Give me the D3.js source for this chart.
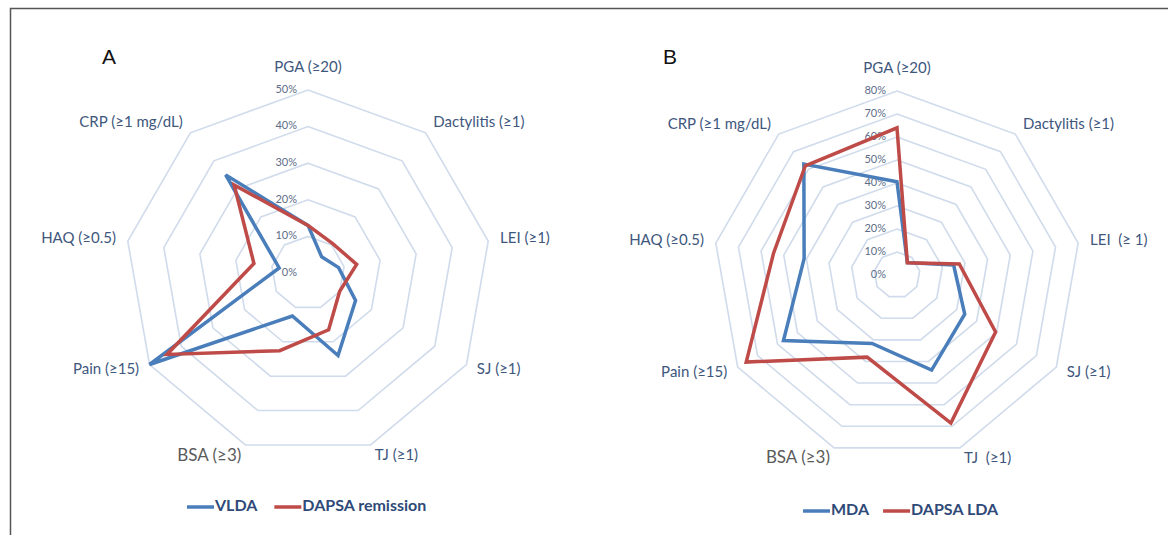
<!DOCTYPE html>
<html>
<head>
<meta charset="utf-8">
<script src="https://cdn.jsdelivr.net/npm/d3@7/dist/d3.min.js"></script>
<style>
  body { margin: 0; background: #fff; }
  svg text { font-family: Lato, "Open Sans", sans-serif; }
</style>
</head>
<body>
<div id="chart"></div>
<script>
// axis labels
var axesA = ['PGA (≥20)', 'Dactylitis (≥1)', 'LEI (≥1)', 'SJ (≥1)', 'TJ (≥1)', 'BSA (≥3)', 'Pain (≥15)', 'HAQ (≥0.5)', 'CRP (≥1 mg/dL)'];
var axesB = ['PGA (≥20)', 'Dactylitis (≥1)', 'LEI  (≥ 1)', 'SJ (≥1)', 'TJ  (≥1)', 'BSA (≥3)', 'Pain (≥15)', 'HAQ (≥0.5)', 'CRP (≥1 mg/dL)'];

// percentages, same order as the axes
var vlda = [13, 5.8, 8.5, 15, 24, 12.5, 50, 8, 35];
var dapsaRemission = [13, 10.5, 13.5, 10, 16.5, 22.6, 44.5, 15, 31.4];
var mda = [40.5, 7, 25, 34, 44, 31.7, 57, 41, 63];
var dapsaLda = [64, 7, 27.5, 49.5, 68.5, 38, 75.7, 54.5, 62];

var ticksA = [0, 10, 20, 30, 40, 50];
var ticksB = [0, 10, 20, 30, 40, 50, 60, 70, 80];

var width = 1168, height = 535;
var blue = '#4a7ebb', red = '#be4b48';

var svg = d3.select('#chart')
  .append('svg')
  .attr('width', width)
  .attr('height', height);

// frame
svg.append('path')
  .attr('d', 'M10.5,' + height + 'V8.5H' + width)
  .attr('fill', 'none')
  .attr('stroke', '#555')
  .attr('stroke-width', 1.5);

function radar(opts) {
  var g = svg.append('g')
    .attr('transform', 'translate(' + opts.cx + ',' + opts.cy + ')');

  var n = opts.axes.length;
  var angle = d3.scaleLinear().domain([0, n]).range([0, 2 * Math.PI]);
  var r = d3.scaleLinear().domain([0, d3.max(opts.ticks)]).range([0, opts.radius]);

  var ring = d3.lineRadial()
    .angle(function (d, i) { return angle(i); })
    .radius(function (d) { return r(d); })
    .curve(d3.curveLinearClosed);

  // grid rings
  g.selectAll('.ring')
    .data(opts.ticks.filter(function (t) { return t > 0; }))
    .enter()
    .append('path')
    .attr('d', function (t) { return ring(d3.range(n).map(function () { return t; })); })
    .attr('fill', 'none')
    .attr('stroke', '#d0dbeb')
    .attr('stroke-width', 1.6);

  // tick labels
  g.selectAll('.tick')
    .data(opts.ticks)
    .enter()
    .append('text')
    .attr('x', -11)
    .attr('y', function (t) { return -r(t); })
    .attr('text-anchor', 'end')
    .attr('dominant-baseline', 'middle')
    .attr('font-size', 11)
    .attr('fill', '#5d6d88')
    .text(function (t) { return t + '%'; });

  // axis labels
  g.selectAll('.label')
    .data(opts.axes)
    .enter()
    .append('text')
    .attr('x', function (d, i) {
      return i === 0 ? 0 : Math.sin(angle(i)) * (opts.radius + 12);
    })
    .attr('y', function (d, i) {
      return i === 0 ? -(opts.radius + 22) : -Math.cos(angle(i)) * (opts.radius + 12);
    })
    .attr('text-anchor', function (d, i) {
      if (i === 0) return 'middle';
      return Math.sin(angle(i)) > 0 ? 'start' : 'end';
    })
    .attr('dominant-baseline', 'middle')
    .attr('font-size', function (d, i) { return i === 5 ? 17 : 15; })
    .attr('fill', function (d, i) { return i === 5 ? '#5a5a5a' : '#40577d'; })
    .style('white-space', 'pre')
    .text(function (d) { return d; });

  var line = d3.lineRadial()
    .angle(function (d, i) { return angle(i); })
    .radius(function (d) { return r(d); })
    .curve(d3.curveLinearClosed);

  g.selectAll('.series')
    .data(opts.series)
    .enter()
    .append('path')
    .attr('d', function (s) { return line(s.values); })
    .attr('fill', 'none')
    .attr('stroke', function (s) { return s.color; })
    .attr('stroke-width', 3.5)
    .attr('stroke-linejoin', 'miter');

  // panel letter
  svg.append('text')
    .attr('x', opts.letterX)
    .attr('y', 58)
    .attr('text-anchor', 'middle')
    .attr('dominant-baseline', 'middle')
    .style('font-family', '"Liberation Sans", Arial, sans-serif')
    .attr('font-size', 21)
    .attr('fill', '#111')
    .text(opts.letter);

  // legend
  var lg = svg.append('g')
    .attr('transform', 'translate(' + opts.legendX + ',' + opts.legendY + ')');
  var x = 0;
  opts.series.forEach(function (s) {
    lg.append('line')
      .attr('x1', x).attr('x2', x + 27)
      .attr('y1', 0).attr('y2', 0)
      .attr('stroke', s.color)
      .attr('stroke-width', 3.5);
    var t = lg.append('text')
      .attr('x', x + 28)
      .attr('y', 0)
      .attr('dominant-baseline', 'middle')
      .attr('font-size', 16)
      .attr('font-weight', 'bold')
      .attr('fill', '#2f4a78')
      .text(s.name);
    x += 28 + t.node().getComputedTextLength() + opts.legendGap;
  });
}

radar({
  cx: 308, cy: 273, radius: 183,
  axes: axesA, ticks: ticksA,
  series: [
    { name: 'VLDA', values: vlda, color: blue },
    { name: 'DAPSA remission', values: dapsaRemission, color: red }
  ],
  letter: 'A', letterX: 109,
  legendX: 187, legendY: 507, legendGap: 17
});

radar({
  cx: 897, cy: 275, radius: 184,
  axes: axesB, ticks: ticksB,
  series: [
    { name: 'MDA', values: mda, color: blue },
    { name: 'DAPSA LDA', values: dapsaLda, color: red }
  ],
  letter: 'B', letterX: 670,
  legendX: 803, legendY: 511, legendGap: 14
});
</script>
</body>
</html>
